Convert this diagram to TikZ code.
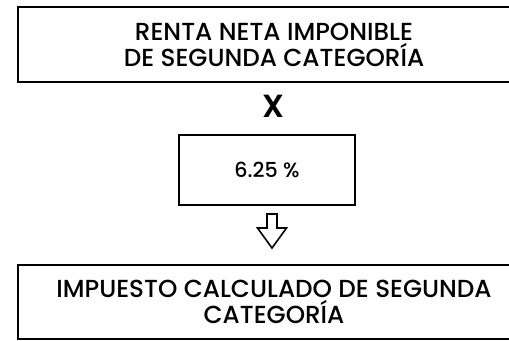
\documentclass[tikz,border=0pt]{standalone}
\usepackage{fontspec}
\setmainfont{Poppins}[UprightFont={Poppins Medium}, BoldFont={Poppins SemiBold}]
\usetikzlibrary{positioning}
\tikzset{
  box/.style={draw, line width=1.5pt, align=center, inner sep=0pt, font=\fontsize{18.5}{19.5}\selectfont},
}
\begin{document}
\begin{tikzpicture}[x=0.75pt, y=-0.75pt]
    \clip (0,0) rectangle (509,340);
    \node[box, minimum width=512*0.75pt, minimum height=75*0.75pt] (renta) at (274,44.5) {RENTA NETA IMPONIBLE\\DE SEGUNDA CATEGORÍA};
    \node[font=\fontsize{24}{26}\bfseries] (por) at (273,106) {X};
    \node[box, minimum width=176*0.75pt, minimum height=70*0.75pt, font=\fontsize{15.5}{18}\selectfont] (tasa) at (267,170) {6.25 \%};
    \node[box, minimum width=512*0.75pt, minimum height=74*0.75pt] (impuesto) at (274,302) {IMPUESTO CALCULADO DE SEGUNDA\\CATEGORÍA};

    \coordinate (flecha) at (272,214);
    \draw[line width=1.2pt, line join=miter] ([xshift=-3.75pt] flecha) -- ++(0,14) -- ++(-9.5,0) -- ++(14.5,20) -- ++(14.5,-20) -- ++(-9.5,0) -- ++(0,-14) -- cycle;
\end{tikzpicture}
\end{document}
